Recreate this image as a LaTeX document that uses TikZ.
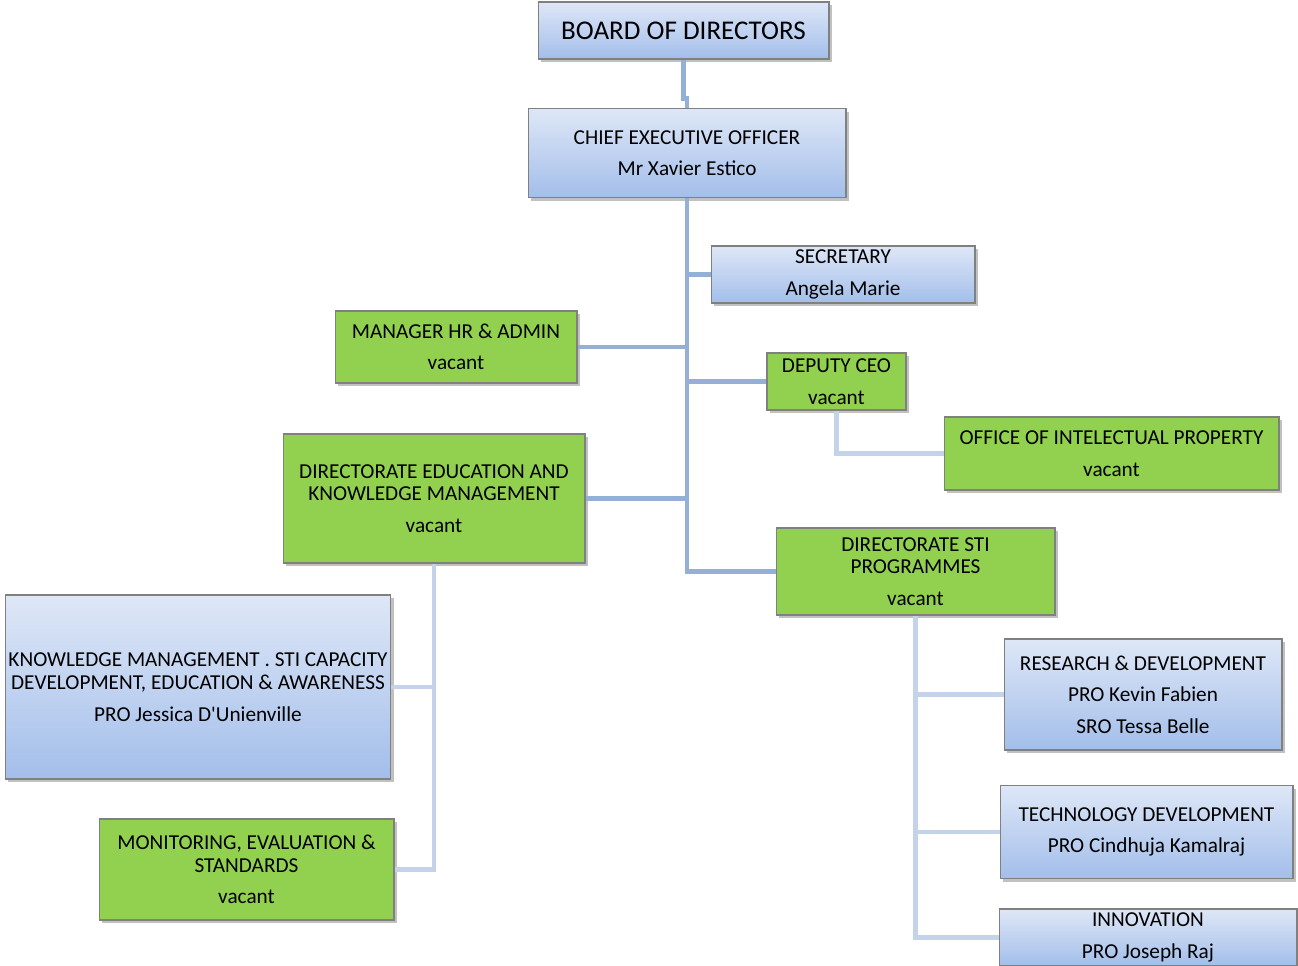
\documentclass[tikz,border=0pt]{standalone}
\usepackage{fontspec}
\setmainfont{Carlito}
\usetikzlibrary{shadows}
\definecolor{blueTop}{RGB}{222,231,247}
\definecolor{blueBot}{RGB}{163,190,234}
\definecolor{unitGreen}{RGB}{146,208,80}
\definecolor{linkMain}{RGB}{149,176,214}
\definecolor{linkSub}{RGB}{196,211,234}
\tikzset{
  unit/.style={draw=black!50, line width=0.6pt, align=center, inner sep=0pt,
    font=\fontsize{12.1}{13}\selectfont,
    drop shadow={shadow xshift=1.8pt, shadow yshift=-1.8pt, opacity=0.35, fill=black!70}},
  bluebox/.style={unit, top color=blueTop, bottom color=blueBot},
  greenbox/.style={unit, fill=unitGreen},
  link/.style={draw=linkMain, line width=2.8pt},
  sublink/.style={draw=linkSub, line width=2.4pt},
}
\begin{document}
\begin{tikzpicture}[x=0.02cm,y=-0.02cm]
\useasboundingbox (0,0) rectangle (1298,966);
% top of the chart
\node[bluebox, minimum width=5.82cm, minimum height=1.14cm, font=\fontsize{15.4}{17}\selectfont] (board) at (683.5,30.5) {BOARD OF DIRECTORS};
\node[bluebox, minimum width=6.36cm, minimum height=1.78cm] (ceo) at (687,153) {CHIEF EXECUTIVE OFFICER\\[5pt]Mr Xavier Estico};
\node[bluebox, minimum width=5.28cm, minimum height=1.14cm] (sec) at (843,274.5) {SECRETARY\\[5pt]Angela Marie};
\node[greenbox, minimum width=4.84cm, minimum height=1.44cm] (hr) at (456,347) {MANAGER HR \& ADMIN\\[5pt]vacant};
\node[greenbox, minimum width=2.78cm, minimum height=1.14cm] (dep) at (836.5,381.5) {DEPUTY CEO\\[5pt]vacant};
\node[greenbox, minimum width=6.70cm, minimum height=1.46cm] (ip) at (1111.5,453.5) {OFFICE OF INTELECTUAL PROPERTY\\[5pt]vacant};
% directorates
\node[greenbox, minimum width=6.04cm, minimum height=2.58cm] (dired) at (434,498.5) {DIRECTORATE EDUCATION AND\\KNOWLEDGE MANAGEMENT\\[5pt]vacant};
\node[greenbox, minimum width=5.58cm, minimum height=1.74cm] (dirsti) at (915.5,571.5) {DIRECTORATE STI\\PROGRAMMES\\[5pt]vacant};
\node[bluebox, minimum width=7.72cm, minimum height=3.68cm] (km) at (198,687) {KNOWLEDGE MANAGEMENT . STI CAPACITY\\DEVELOPMENT, EDUCATION \& AWARENESS\\[5pt]PRO Jessica D\textquotesingle Unienville};
\node[greenbox, minimum width=5.90cm, minimum height=2.02cm] (mon) at (246.5,869.5) {MONITORING, EVALUATION \&\\STANDARDS\\[5pt]vacant};
\node[bluebox, minimum width=5.56cm, minimum height=2.22cm] (rd) at (1143,694.5) {RESEARCH \& DEVELOPMENT\\[5pt]PRO Kevin Fabien\\[5pt]SRO Tessa Belle};
\node[bluebox, minimum width=5.86cm, minimum height=1.86cm] (tech) at (1146.5,832) {TECHNOLOGY DEVELOPMENT\\[5pt]PRO Cindhuja Kamalraj};
\node[bluebox, minimum width=5.96cm, minimum height=1.14cm] (inno) at (1148,937.5) {INNOVATION\\[5pt]PRO Joseph Raj};
% connectors
\draw[link] (board.south) -- ++(0,39) -| (ceo.north);
\draw[link] (ceo.south) |- (dirsti.west);
\draw[link] (sec.west) -- (sec.west -| ceo.south);
\draw[link] (hr.east) -- (hr.east -| ceo.south);
\draw[link] (dep.west) -- (dep.west -| ceo.south);
\draw[link] (dired.east) -- (dired.east -| ceo.south);
\draw[sublink] (dep.south) |- (ip.west);
\draw[sublink] (dired.south) |- (mon.east);
\draw[sublink] (km.east) -- (km.east -| dired.south);
\draw[sublink] (dirsti.south) |- (inno.west);
\draw[sublink] (rd.west) -- (rd.west -| dirsti.south);
\draw[sublink] (tech.west) -- (tech.west -| dirsti.south);
\end{tikzpicture}
\end{document}
